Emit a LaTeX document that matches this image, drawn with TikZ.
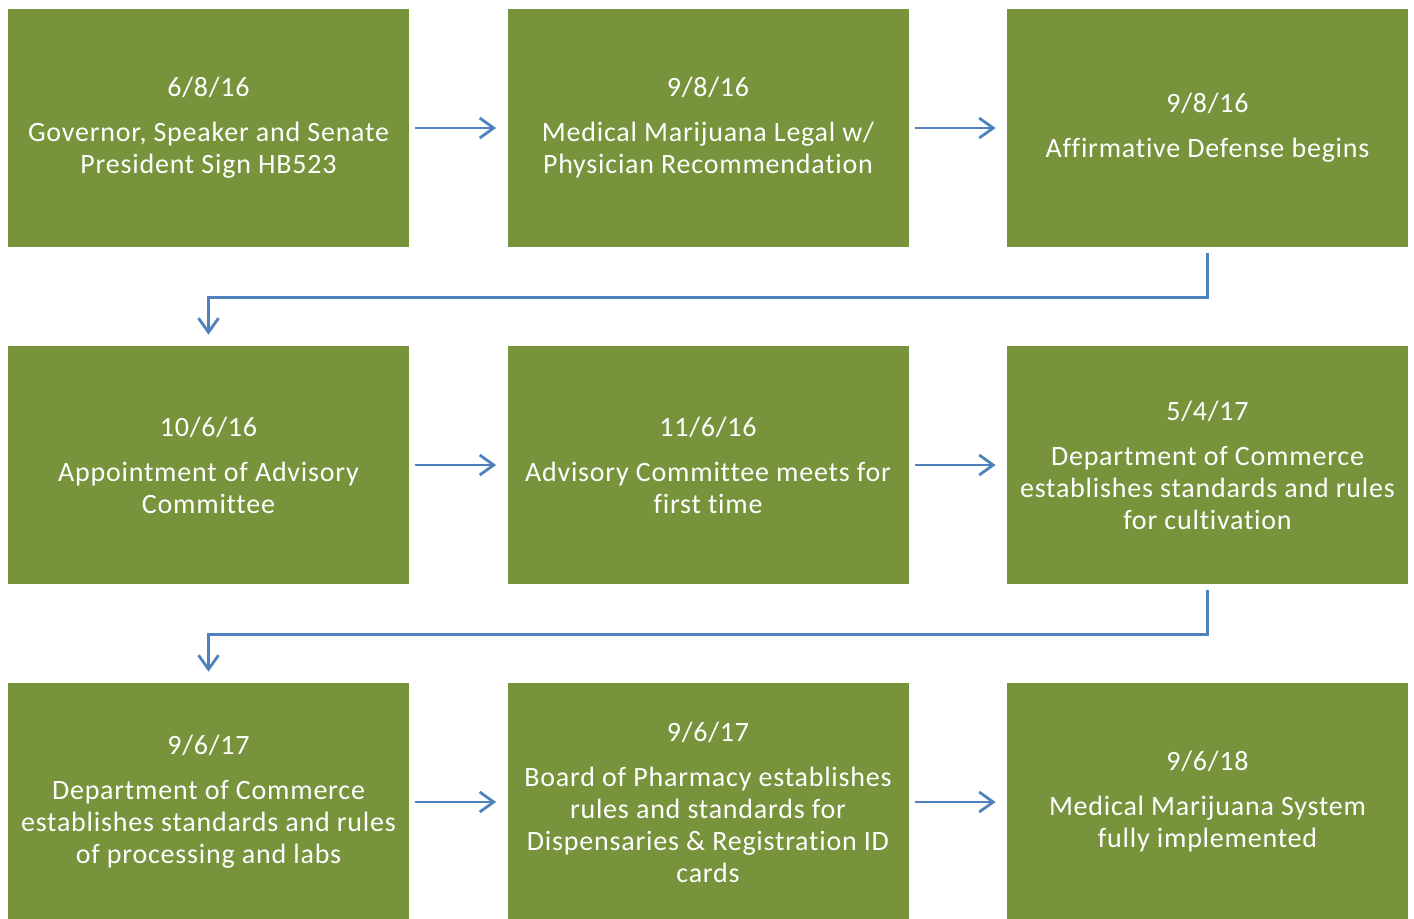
\documentclass[tikz,border=0pt]{standalone}
\usepackage{fontspec}
\setmainfont[LetterSpace=2.8, Ligatures=NoCommon]{Carlito}
\usetikzlibrary{arrows.meta}

\definecolor{boxgreen}{HTML}{77933C}
\definecolor{lineblue}{HTML}{4F81BD}

\tikzset{
    stepbox/.style={fill=boxgreen, text=white, minimum width=200.5pt, minimum height=119pt,
        inner sep=0pt, align=center, font=\fontsize{14pt}{16pt}\selectfont},
    flow/.style={draw=lineblue, line width=1.4pt, -{Straight Barb[length=7pt,width=10pt]},
        shorten <=3pt, shorten >=5.5pt},
}

\begin{document}
\begin{tikzpicture}[x=0.5pt, y=-0.5pt]
                \useasboundingbox (0, 0) rectangle (1414, 918);

                % 1 段目
                \node[stepbox] (b1) at (208.5, 128) {6/8/16\\[6.5pt]Governor, Speaker and Senate\\President Sign HB523};
                \node[stepbox] (b2) at (708, 128) {9/8/16\\[6.5pt]Medical Marijuana Legal w/\\Physician Recommendation};
                \node[stepbox] (b3) at (1207.5, 128) {9/8/16\\[6.5pt]Affirmative Defense begins};

                % 2 段目
                \node[stepbox] (b4) at (208.5, 465) {10/6/16\\[6.5pt]Appointment of Advisory\\Committee};
                \node[stepbox] (b5) at (708, 465) {11/6/16\\[6.5pt]Advisory Committee meets for\\first time};
                \node[stepbox] (b6) at (1207.5, 465) {5/4/17\\[6.5pt]Department of Commerce\\establishes standards and rules\\for cultivation};

                % 3 段目
                \node[stepbox] (b7) at (208.5, 802) {9/6/17\\[6.5pt]Department of Commerce\\establishes standards and rules\\of processing and labs};
                \node[stepbox] (b8) at (708, 802) {9/6/17\\[6.5pt]Board of Pharmacy establishes\\rules and standards for\\Dispensaries \& Registration ID\\cards};
                \node[stepbox] (b9) at (1207.5, 802) {9/6/18\\[6.5pt]Medical Marijuana System\\fully implemented};

                % 横矢印
                \foreach \a / \b in {b1/b2, b2/b3, b4/b5, b5/b6, b7/b8, b8/b9} {
                    \draw[flow] (\a.east) -- (\b.west);
                }

                % 折れ線矢印
                \foreach \a / \b in {b3/b4, b6/b7} {
                    \draw[flow] (\a.south) -- ++(0, 50) -| (\b.north);
                }

            \end{tikzpicture}
\end{document}
